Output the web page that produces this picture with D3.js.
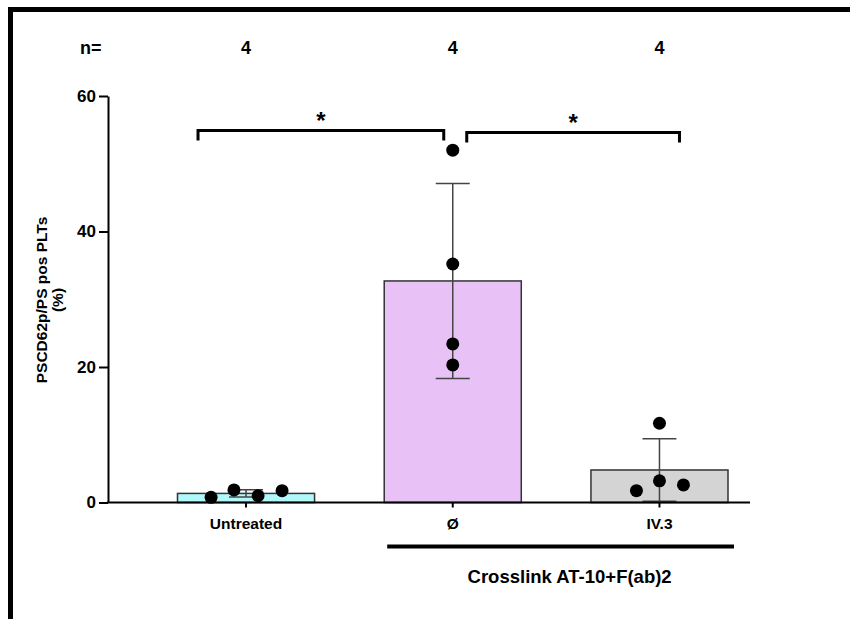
<!DOCTYPE html>
<html>
<head>
<meta charset="utf-8">
<script src="https://cdn.jsdelivr.net/npm/d3@7"></script>
<style>
  body { margin: 0; background: #fff; }
  svg text { font-family: "Liberation Sans", Arial, sans-serif; font-weight: bold; fill: #000; }
</style>
</head>
<body>
<div id="vis"></div>
<script>
const FRAME_WIDTH = 850;
const FRAME_HEIGHT = 619;

// data
const categories = ["Untreated", "Ø", "IV.3"];
const groupN = [4, 4, 4];
const barMeans = [1.34, 32.7, 4.8];
const barSD = [0.54, 14.4, 4.6];
const barColors = ["#b0f8fa", "#e8c2f7", "#d4d4d4"];
const pointValues = [
  [0.77, 1.85, 1.0, 1.75],
  [52.0, 35.2, 23.4, 20.3],
  [11.7, 3.2, 1.75, 2.6]
];
// horizontal jitter of points, as share of bar width
const pointJitter = [
  [-0.255, -0.088, 0.088, 0.263],
  [0, 0, 0, 0],
  [0, 0, -0.168, 0.175]
];
const yTicks = [0, 20, 40, 60];
// significance brackets
const brackets = [
  {from: 0, to: 1, level: 54.9, label: "*"},
  {from: 1, to: 2, level: 54.6, label: "*"}
];

const svg = d3.select("#vis")
              .append("svg")
              .attr("width", FRAME_WIDTH)
              .attr("height", FRAME_HEIGHT);

// outer frame (top and left thick edge)
svg.append("rect").attr("x", 8).attr("y", 7).attr("width", FRAME_WIDTH - 8).attr("height", 5).attr("fill", "#000");
svg.append("rect").attr("x", 8).attr("y", 7).attr("width", 5).attr("height", FRAME_HEIGHT - 7).attr("fill", "#000");

const X_SCALE = d3.scaleBand()
                  .domain(categories)
                  .range([177.5, 728])
                  .paddingInner(0.337)
                  .paddingOuter(0);

const Y_SCALE = d3.scaleLinear()
                  .domain([0, 60])
                  .range([502.5, 96]);

const bw = X_SCALE.bandwidth();
const cx = (i) => X_SCALE(categories[i]) + bw / 2;

// bars
svg.selectAll(".bar")
   .data(categories)
   .enter()
   .append("rect")
     .attr("class", "bar")
     .attr("x", (d) => X_SCALE(d))
     .attr("width", bw)
     .attr("y", (d, i) => Y_SCALE(barMeans[i]))
     .attr("height", (d, i) => Y_SCALE(0) - Y_SCALE(barMeans[i]))
     .attr("fill", (d, i) => barColors[i])
     .attr("stroke", "#333")
     .attr("stroke-width", 1.5);

// error bars (SD)
const capHalf = 17;
categories.forEach((c, i) => {
  const lo = Y_SCALE(Math.max(0, barMeans[i] - barSD[i]));
  const hi = Y_SCALE(barMeans[i] + barSD[i]);
  const g = svg.append("g").attr("stroke", "#444").attr("stroke-width", 1.5);
  g.append("line").attr("x1", cx(i)).attr("x2", cx(i)).attr("y1", lo).attr("y2", hi);
  g.append("line").attr("x1", cx(i) - capHalf).attr("x2", cx(i) + capHalf).attr("y1", hi).attr("y2", hi);
  g.append("line").attr("x1", cx(i) - capHalf).attr("x2", cx(i) + capHalf).attr("y1", lo).attr("y2", lo);
});

// individual points
categories.forEach((c, i) => {
  svg.selectAll(".pt" + i)
     .data(pointValues[i])
     .enter()
     .append("circle")
       .attr("cx", (d, j) => cx(i) + pointJitter[i][j] * bw)
       .attr("cy", (d) => Y_SCALE(d))
       .attr("r", 6.5)
       .attr("fill", "#000");
});

// y axis
const yAxis = svg.append("g")
   .attr("transform", "translate(108,0)")
   .call(d3.axisLeft(Y_SCALE).tickValues(yTicks).tickSize(9).tickSizeOuter(0));
yAxis.select(".domain").attr("stroke-width", 2);
yAxis.selectAll(".tick line").attr("stroke-width", 2);
yAxis.selectAll(".tick text").attr("font-size", 17).attr("font-family", "Liberation Sans, Arial, sans-serif").attr("font-weight", "bold").attr("x", -12);

// x axis
svg.append("line")
   .attr("x1", 107).attr("x2", 750)
   .attr("y1", Y_SCALE(0)).attr("y2", Y_SCALE(0))
   .attr("stroke", "#000").attr("stroke-width", 2);
const xAxis = svg.append("g")
   .attr("transform", "translate(0," + Y_SCALE(0) + ")")
   .call(d3.axisBottom(X_SCALE).tickSize(5).tickSizeOuter(0));
xAxis.select(".domain").remove();
xAxis.selectAll(".tick line").attr("stroke-width", 2);
xAxis.selectAll(".tick text").attr("font-size", 15.5).attr("font-family", "Liberation Sans, Arial, sans-serif").attr("font-weight", "bold").attr("y", 15);

// y axis title
svg.append("text")
   .attr("transform", "translate(47,300) rotate(-90)")
   .attr("text-anchor", "middle")
   .attr("font-size", 15.5)
   .text("PSCD62p/PS pos PLTs");
svg.append("text")
   .attr("transform", "translate(63,300) rotate(-90)")
   .attr("text-anchor", "middle")
   .attr("font-size", 15.5)
   .text("(%)");

// n row
svg.append("text").attr("x", 80).attr("y", 54).attr("font-size", 18).text("n=");
svg.selectAll(".ncount")
   .data(groupN)
   .enter()
   .append("text")
     .attr("x", (d, i) => cx(i))
     .attr("y", 54)
     .attr("text-anchor", "middle")
     .attr("font-size", 18)
     .text((d) => d);

// significance brackets
const bracketEnds = [[-48, -9], [14, 20]];
brackets.forEach((b, k) => {
  const x1 = cx(b.from) + bracketEnds[k][0];
  const x2 = cx(b.to) + bracketEnds[k][1];
  const y = Y_SCALE(b.level);
  svg.append("path")
     .attr("d", `M${x1},${y + 10}V${y}H${x2}V${y + 10}`)
     .attr("fill", "none")
     .attr("stroke", "#000")
     .attr("stroke-width", 3);
  svg.append("text")
     .attr("x", (x1 + x2) / 2)
     .attr("y", y - 2)
     .attr("text-anchor", "middle")
     .attr("font-size", 24)
     .text(b.label);
});

// treatment group line
const gx1 = X_SCALE(categories[1]) + 3;
const gx2 = X_SCALE(categories[2]) + bw + 6;
svg.append("line")
   .attr("x1", gx1).attr("x2", gx2)
   .attr("y1", 546.5).attr("y2", 546.5)
   .attr("stroke", "#000").attr("stroke-width", 4);
svg.append("text")
   .attr("x", (gx1 + gx2) / 2 + 9)
   .attr("y", 583)
   .attr("text-anchor", "middle")
   .attr("font-size", 18.5)
   .text("Crosslink AT-10+F(ab)2");
</script>
</body>
</html>
